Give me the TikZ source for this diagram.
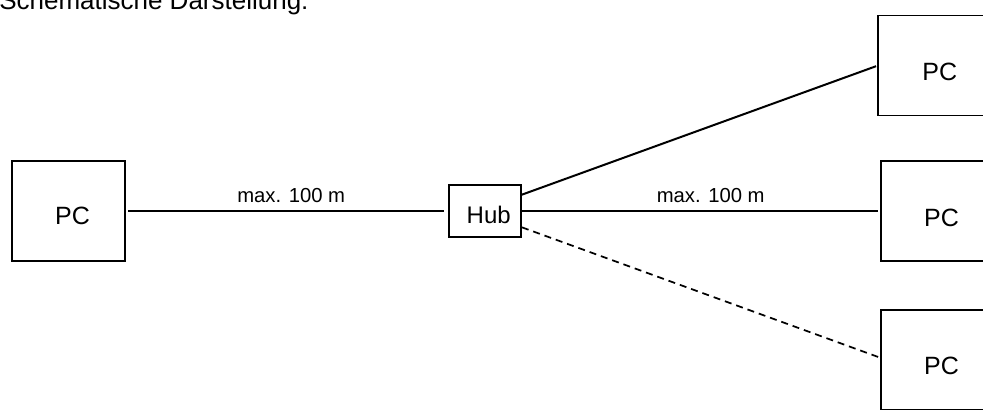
\documentclass[tikz,border=0pt]{standalone}
\usepackage{fontspec}
\setmainfont{Liberation Sans}
\begin{document}
\begin{tikzpicture}[x=0.75pt,y=-0.75pt,
  pcbox/.style={draw=black,line width=1pt,minimum width=84.75pt,minimum height=75pt,inner sep=0pt,outer sep=0pt},
  hubbox/.style={draw=black,line width=1pt,minimum width=54pt,minimum height=39pt,inner sep=0pt,outer sep=0pt},
  boxtext/.style={font=\fontsize{18.75pt}{20pt}\selectfont,inner sep=0pt},
  cable/.style={line width=1.5pt,black},
  optcable/.style={line width=1.3pt,black,dash pattern=on 5.25pt off 3.75pt},
  lentext/.style={font=\fontsize{15.2pt}{17pt}\selectfont,inner sep=0pt,anchor=base}
]
\useasboundingbox (0,0) rectangle (983,410);
\clip (0,0) rectangle (983,410);

\node[font=\fontsize{19.5pt}{21pt}\selectfont,anchor=base west,inner sep=0pt] (title) at (-1,9.5) {Schematische Darstellung:};

\node[pcbox,label={[boxtext,xshift=3pt,yshift=-3.75pt]center:PC}] (lpc) at (68.5,211) {};
\node[hubbox,label={[boxtext,font=\fontsize{18pt}{20pt}\selectfont,xshift=2.8pt,yshift=-3.3pt]center:Hub}] (hub) at (485,211) {};
\node[pcbox,label={[boxtext,xshift=4pt,yshift=-5pt]center:PC}] (tpc) at (934.5,65.5) {};
\node[pcbox,label={[boxtext,xshift=3pt,yshift=-5pt]center:PC}] (mpc) at (937.5,211) {};
\node[pcbox,label={[boxtext,xshift=3pt,yshift=-4.5pt]center:PC}] (bpc) at (937.5,360) {};

\draw[cable,shorten <=2.25pt,shorten >=3.75pt] (lpc.east) -- node[lentext,pos=0.513,yshift=6.5pt] (l1) {max. 100 m} (hub.west);
\draw[cable,shorten >=1.5pt] ([yshift=12pt]hub.east) -- (tpc.west);
\draw[cable,shorten >=2.25pt] (hub.east) -- node[lentext,pos=0.527,yshift=6.5pt] (l2) {max. 100 m} (mpc.west);
\draw[optcable,shorten <=0.75pt,shorten >=2.25pt] ([yshift=-12pt]hub.east) -- ([yshift=1.5pt]bpc.west);
\end{tikzpicture}
\end{document}
